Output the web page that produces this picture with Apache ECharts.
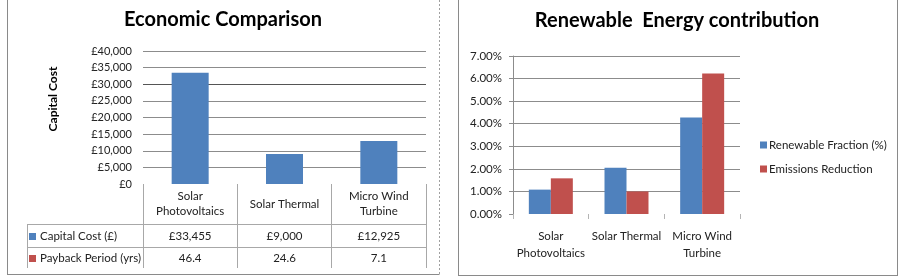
<!DOCTYPE html>
<html>
<head>
<meta charset="utf-8">
<title>Economic Comparison / Renewable Energy contribution</title>
<script src="https://cdn.jsdelivr.net/npm/echarts@6/dist/echarts.min.js"></script>
<style>
  html, body { margin: 0; padding: 0; background: #fff; }
  #main { width: 904px; height: 276px; }
</style>
</head>
<body>
<div id="main"></div>
<script>
var categories = ['Solar\nPhotovoltaics', 'Solar Thermal', 'Micro Wind\nTurbine'];
var capitalCost = [33455, 9000, 12925];
var paybackYears = [46.4, 24.6, 7.1];
var renewableFraction = [1.08, 2.05, 4.27];
var emissionsReduction = [1.58, 1.0, 6.23];

var chartDom = document.getElementById('main');
var myChart = echarts.init(chartDom);
var option;

var font = 'Lato';
var blue = '#4F81BD';
var red = '#C0504D';
var gridCol = '#8c8c8c';
var tableCol = '#a8a8a8';
var none = 'rgba(0,0,0,0)';

function pounds(v) {
  return '£' + String(v).replace(/\B(?=(\d{3})+(?!\d))/g, ',');
}

function line(x1, y1, x2, y2, color, dash) {
  return {
    type: 'line',
    shape: { x1: x1, y1: y1, x2: x2, y2: y2 },
    style: { stroke: color, lineWidth: 1, lineDash: dash || null },
    silent: true
  };
}

option = {
  animation: false,
  textStyle: { fontFamily: font, color: '#222' },
  title: [
    {
      text: 'Economic Comparison',
      left: 223,
      top: 10,
      padding: 0,
      textAlign: 'center',
      textStyle: { fontFamily: font, fontSize: 20, fontWeight: 'bold', color: '#000' }
    },
    {
      text: 'Renewable  Energy contribution',
      left: 677,
      top: 11,
      padding: 0,
      textAlign: 'center',
      textStyle: { fontFamily: font, fontSize: 20, fontWeight: 'bold', color: '#000' }
    }
  ],
  legend: {
    data: ['Renewable Fraction (%)', 'Emissions Reduction'],
    orient: 'vertical',
    left: 760,
    top: 139,
    padding: 0,
    icon: 'rect',
    itemWidth: 7,
    itemHeight: 7,
    itemGap: 12,
    textStyle: { fontFamily: font, fontSize: 11.5, color: '#222', padding: [0, 0, 0, -3] }
  },
  grid: [
    { left: 143, top: 51, width: 283, height: 133, outerBoundsMode: 'none' },
    { left: 513, top: 56, width: 227, height: 158, outerBoundsMode: 'none' }
  ],
  xAxis: [
    {
      gridIndex: 0,
      type: 'category',
      data: categories,
      axisLine: { show: false },
      axisTick: { show: true, length: 84, lineStyle: { color: tableCol } },
      axisLabel: {
        interval: 0,
        margin: 20,
        verticalAlign: 'middle',
        lineHeight: 15,
        fontSize: 11.5,
        color: '#222'
      }
    },
    {
      gridIndex: 0,
      type: 'category',
      data: categories,
      position: 'bottom',
      offset: 40,
      axisLine: { show: true, lineStyle: { color: tableCol } },
      axisTick: { show: false },
      axisLabel: {
        interval: 0,
        margin: 12,
        verticalAlign: 'middle',
        fontSize: 11.5,
        color: '#222',
        formatter: function (v, i) { return pounds(capitalCost[i]); }
      }
    },
    {
      gridIndex: 0,
      type: 'category',
      data: categories,
      position: 'bottom',
      offset: 63,
      axisLine: { show: true, lineStyle: { color: tableCol } },
      axisTick: { show: false },
      axisLabel: {
        interval: 0,
        margin: 11,
        verticalAlign: 'middle',
        fontSize: 11.5,
        color: '#222',
        formatter: function (v, i) { return paybackYears[i].toFixed(1); }
      }
    },
    {
      gridIndex: 1,
      type: 'category',
      data: categories,
      axisLine: { show: false },
      axisTick: { show: true, length: 5, lineStyle: { color: '#b4b4b4' } },
      axisLabel: {
        interval: 0,
        margin: 14,
        lineHeight: 17,
        fontSize: 11.5,
        color: '#222'
      }
    }
  ],
  yAxis: [
    {
      gridIndex: 0,
      type: 'value',
      min: 0,
      max: 40000,
      interval: 5000,
      name: 'Capital Cost',
      nameLocation: 'middle',
      nameRotate: 90,
      nameGap: 84,
      nameTextStyle: {
        fontFamily: font,
        fontWeight: 'bold',
        fontSize: 12,
        color: '#000',
        padding: [0, 0, 0, 37]
      },
      axisLine: { show: false },
      axisTick: { show: false },
      axisLabel: { margin: 11, fontSize: 11, color: '#222', formatter: pounds },
      splitLine: {
        lineStyle: {
          color: [none, gridCol, gridCol, gridCol, gridCol, gridCol, '#555', gridCol, gridCol]
        }
      }
    },
    {
      gridIndex: 1,
      type: 'value',
      min: 0,
      max: 7,
      interval: 1,
      axisLine: { show: true, lineStyle: { color: gridCol } },
      axisTick: { show: true, length: 4, lineStyle: { color: gridCol } },
      axisLabel: {
        margin: 11,
        fontSize: 11.5,
        color: '#222',
        formatter: function (v) { return v.toFixed(2) + '%'; }
      },
      splitLine: {
        lineStyle: {
          color: [none, gridCol, gridCol, gridCol, gridCol, gridCol, gridCol, gridCol]
        }
      }
    }
  ],
  series: [
    {
      name: 'Capital Cost (£)',
      type: 'bar',
      xAxisIndex: 0,
      yAxisIndex: 0,
      barWidth: 37,
      itemStyle: { color: blue },
      data: capitalCost
    },
    {
      name: 'Renewable Fraction (%)',
      type: 'bar',
      xAxisIndex: 3,
      yAxisIndex: 1,
      barWidth: 22,
      barGap: '0%',
      itemStyle: { color: blue },
      data: renewableFraction
    },
    {
      name: 'Emissions Reduction',
      type: 'bar',
      xAxisIndex: 3,
      yAxisIndex: 1,
      barWidth: 22,
      barGap: '0%',
      itemStyle: { color: red },
      data: emissionsReduction
    }
  ],
  graphic: [
    // panel frames
    line(7.5, 0, 7.5, 274.5, '#8a8a8a'),
    line(7, 274.5, 439.5, 274.5, '#8a8a8a'),
    line(439.5, 0, 439.5, 274.5, '#a0a0a0', [2, 2]),
    line(458.5, 0, 458.5, 275.5, '#8a8a8a'),
    line(897.5, 0, 897.5, 275.5, '#8a8a8a'),
    line(458, 275.5, 898, 275.5, '#8a8a8a'),
    // data table, legend column
    line(27, 224.5, 143, 224.5, tableCol),
    line(27, 247.5, 143, 247.5, tableCol),
    line(27.5, 224, 27.5, 268, tableCol),
    { type: 'rect', shape: { x: 29, y: 233, width: 7, height: 7 }, style: { fill: blue } },
    { type: 'rect', shape: { x: 29, y: 255, width: 7, height: 7 }, style: { fill: red } },
    {
      type: 'text', x: 40, y: 236.5,
      style: { text: 'Capital Cost (£)', fontFamily: font, fontSize: 11.5, fill: '#222', verticalAlign: 'middle' }
    },
    {
      type: 'text', x: 40, y: 258.5,
      style: { text: 'Payback Period (yrs)', fontFamily: font, fontSize: 11.5, fill: '#222', verticalAlign: 'middle' }
    }
  ]
};

myChart.setOption(option);
</script>
</body>
</html>
